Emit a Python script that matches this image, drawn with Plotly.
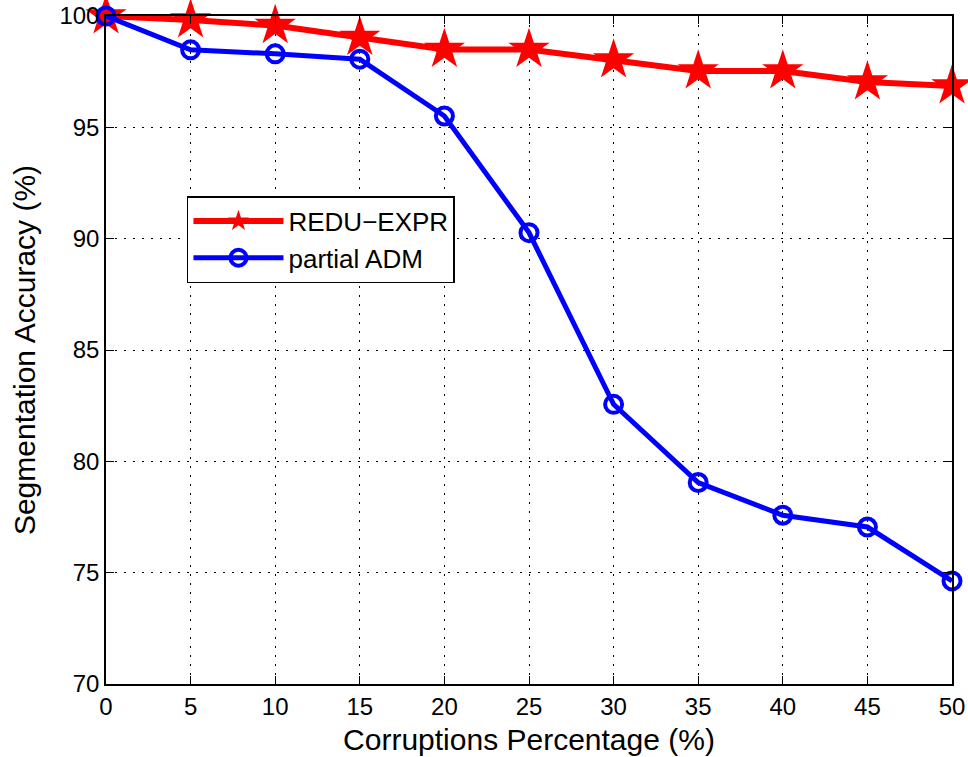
import plotly.graph_objects as go

corruption = [0, 5, 10, 15, 20, 25, 30, 35, 40, 45, 50]
redu_expr = [100, 99.82, 99.57, 99.04, 98.5, 98.5, 98.03, 97.53, 97.53, 97.04, 96.86]
partial_adm = [100, 98.48, 98.3, 98.06, 95.51, 90.27, 82.56, 79.05, 77.58, 77.05, 74.63]
x_ticks = [0, 5, 10, 15, 20, 25, 30, 35, 40, 45, 50]
y_ticks = [70, 75, 80, 85, 90, 95, 100]

fig = go.Figure()
fig.add_trace(go.Scatter(
    x=corruption, y=redu_expr, name="REDU\u2212EXPR", mode="lines+markers",
    line=dict(color="#FF0000", width=6),
    marker=dict(symbol="star", size=31, color="#FF0000", line=dict(width=0)),
    cliponaxis=False,
))
fig.add_trace(go.Scatter(
    x=corruption, y=partial_adm, name="partial ADM", mode="lines+markers",
    line=dict(color="#0000FF", width=5),
    marker=dict(symbol="circle-open", size=17, color="#0000FF", line=dict(width=4, color="#0000FF")),
    cliponaxis=False,
))

axis_common = dict(
    showline=True, linecolor="black", linewidth=1.5, mirror="ticks",
    ticks="inside", ticklen=8, tickwidth=1, tickcolor="black",
    showgrid=True, gridcolor="black", gridwidth=1, griddash="2px,7px",
    zeroline=False, automargin=False, ticklabeloverflow="allow",
    tickfont=dict(family="Liberation Sans, Arial, sans-serif", size=24, color="black"),
)

fig.update_xaxes(
    range=[0, 50], tickvals=x_ticks, ticktext=[str(v) for v in x_ticks],
    title=dict(text="Corruptions Percentage (%)", standoff=10,
               font=dict(family="Liberation Sans, Arial, sans-serif", size=30, color="black")),
    **axis_common,
)
fig.update_yaxes(
    range=[70, 100], tickvals=y_ticks, ticktext=[str(v) for v in y_ticks],
    title=dict(text="Segmentation Accuracy (%)", standoff=15,
               font=dict(family="Liberation Sans, Arial, sans-serif", size=30, color="black")),
    ticklabelstandoff=0,
    **axis_common,
)

fig.update_layout(
    width=968, height=757,
    margin=dict(l=106, r=16, t=16, b=73),
    paper_bgcolor="white", plot_bgcolor="white",
    showlegend=True,
    legend=dict(
        x=0.0957, y=0.7305, xanchor="left", yanchor="top",
        bgcolor="white", bordercolor="black", borderwidth=1.5,
        font=dict(family="Liberation Sans, Arial, sans-serif", size=26, color="black"),
        itemwidth=90,
    ),
)

fig.write_html(
    "out.html",
    config={"displayModeBar": False},
    post_script="document.body.style.margin='0';document.body.style.overflow='hidden';",
)
